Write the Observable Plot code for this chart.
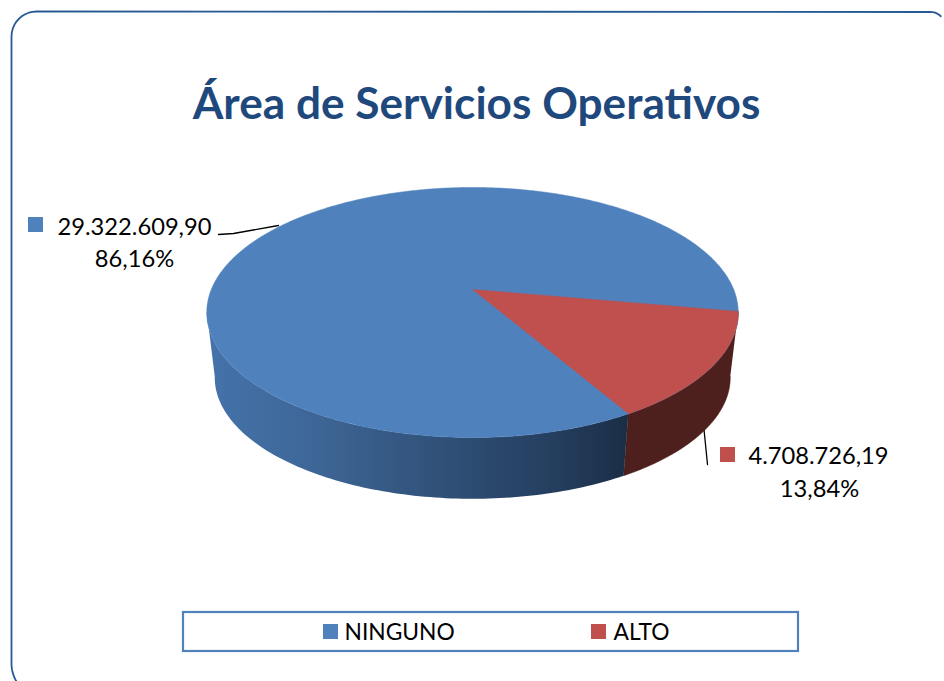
<!DOCTYPE html>
<html><head><meta charset="utf-8">
<script src="https://cdn.jsdelivr.net/npm/d3@7"></script>
<script src="https://cdn.jsdelivr.net/npm/@observablehq/plot@0.6"></script>
<style>html,body{margin:0;padding:0;background:#fff}svg{display:block}</style>
</head><body><div id="chart"></div>
<script>
const titleText = "Área de Servicios Operativos";
const categories = ["NINGUNO", "ALTO"];
const values = [29322609.90, 4708726.19];
const topColors = ["#4f81bd", "#c0504d"];
const FONT = "Lato, Carlito, sans-serif";

// pie perspective model (disc -> picture)
const cx = 472, apexY = 289, A = 261.2, B = 120.8, K = 0.184;
const ellipseCy = 312, wallCy = 377, wallScale = 0.97;
const startDeg = 10.1, silhouetteDeg = 169.9;

const total = d3.sum(values);
const altoSpan = values[1] / total * 360;
const endDeg = startDeg + altoSpan;
const rad = d => d * Math.PI / 180;
function rimTop(deg) {
  const u = Math.cos(rad(deg)), v = Math.sin(rad(deg)), w = 1 - K * v;
  return [cx + A * u / w, apexY + B * v / w];
}
function rimBottom(deg) {
  const [x, y] = rimTop(deg);
  return [cx + (x - cx) * wallScale, wallCy + (y - ellipseCy) * wallScale];
}
const pts = a => a.map(([x, y]) => ({x, y}));

const blueFace = pts(d3.range(0, 360.5, 1).map(rimTop));
const redFace = pts([[cx, apexY], ...d3.range(0, altoSpan + 0.01, altoSpan / 60).map(t => rimTop(startDeg + t))]);

const blueWall = pts([
  ...d3.range(endDeg, silhouetteDeg, 1).map(rimTop),
  rimTop(silhouetteDeg),
  rimBottom(silhouetteDeg),
  ...d3.range(silhouetteDeg, endDeg, -1).map(rimBottom),
  rimBottom(endDeg)
]);
const redWall = pts([
  ...d3.range(startDeg, endDeg + 0.01, altoSpan / 60).map(rimTop),
  ...d3.range(endDeg, startDeg - 0.01, -altoSpan / 60).map(rimBottom)
]);

// gradient stops across the blue wall
const wallStops = [
  {at: 205, c: "#4473aa"}, {at: 300, c: "#3f689a"}, {at: 470, c: "#2d4c71"},
  {at: 560, c: "#243d5d"}, {at: 625, c: "#1b2e47"}
];
function wallGradient() {
  const defs = d3.create("svg:defs");
  const g = defs.append("linearGradient").attr("id", "wallGrad")
    .attr("gradientUnits", "userSpaceOnUse")
    .attr("x1", 205).attr("x2", 625).attr("y1", 0).attr("y2", 0);
  wallStops.forEach(s => g.append("stop")
    .attr("offset", (s.at - 205) / 420).attr("stop-color", s.c));
  return defs.node();
}

// frame with rounded corners
function arc(cxx, cyy, r, a0, a1) {
  return d3.range(0, 1.0001, 0.1).map(t => {
    const a = rad(a0 + (a1 - a0) * t);
    return [cxx + r * Math.cos(a), cyy + r * Math.sin(a)];
  });
}
const frame = pts([
  ...arc(46, 663, 35, 149, 180),
  ...arc(36, 36, 25, 180, 270),
  [930, 11.5],
  ...arc(930, 26, 14.5, 270, 315)
]);

const loc = d3.formatLocale({decimal: ",", thousands: ".", grouping: [3], currency: ["", ""]});
const fmtNum = loc.format(",.2f");
const fmtPct = v => loc.format(".2f")(v / total * 100) + "%";

const labelRows = [
  {x: 134, y: 234, t: fmtNum(values[0])},
  {x: 134, y: 266, t: fmtPct(values[0])},
  {x: 818, y: 463.5, t: fmtNum(values[1])},
  {x: 819, y: 496, t: fmtPct(values[1])}
];
const swatches = [
  {x: 28, y: 217, c: topColors[0]},
  {x: 720, y: 447, c: topColors[1]},
  {x: 323, y: 624, c: topColors[0]},
  {x: 591, y: 624, c: topColors[1]}
];
const legendRows = [
  {x: 344, y: 639, t: categories[0]},
  {x: 613, y: 639, t: categories[1]}
];
const leaders = [
  {x: 218, y: 234, z: 0}, {x: 233, y: 233, z: 0}, {x: 278, y: 225, z: 0},
  {x: 703, y: 424, z: 1}, {x: 707, y: 464, z: 1}
];

const plot = Plot.plot({
  width: 944, height: 681,
  margin: 0,
  x: {domain: [0, 944], range: [0, 944], axis: null},
  y: {domain: [0, 681], range: [0, 681], axis: null},
  style: {background: "#fff"},
  marks: [
    wallGradient,
    Plot.line(frame, {x: "x", y: "y", stroke: "#265a94", strokeWidth: 1.8, curve: "linear"}),
    Plot.text([titleText], {x: () => 476, y: () => 118, text: d => d, fontFamily: FONT, fontWeight: 700, fontSize: 44.2, fill: "#1f497d", textAnchor: "middle", lineAnchor: "bottom"}),
    Plot.line(leaders, {x: "x", y: "y", z: "z", stroke: "#000", strokeWidth: 1.3}),
    Plot.line(redWall, {x: "x", y: "y", fill: "#4d1f1d", stroke: "#4d1f1d", strokeWidth: 0.5}),
    Plot.line(blueWall, {x: "x", y: "y", fill: "url(#wallGrad)", stroke: "none"}),
    Plot.line(blueFace, {x: "x", y: "y", fill: topColors[0], stroke: topColors[0], strokeWidth: 0.5}),
    Plot.line(redFace, {x: "x", y: "y", fill: topColors[1], stroke: topColors[1], strokeWidth: 0.5}),
    Plot.rect(swatches, {x1: "x", x2: d => d.x + 15, y1: "y", y2: d => d.y + 15, fill: "c"}),
    Plot.text(labelRows, {x: "x", y: "y", text: "t", fontFamily: FONT, fontSize: 23.7, fill: "#000", textAnchor: "middle", lineAnchor: "bottom"}),
    Plot.rect([0], {x1: () => 183, x2: () => 798, y1: () => 612, y2: () => 651, fill: "none", stroke: "#4f81bd", strokeWidth: 2.2}),
    Plot.text(legendRows, {x: "x", y: "y", text: "t", fontFamily: FONT, fontSize: 22.8, fill: "#000", textAnchor: "start", lineAnchor: "bottom"})
  ]
});
document.getElementById("chart").appendChild(plot);
</script></body></html>
